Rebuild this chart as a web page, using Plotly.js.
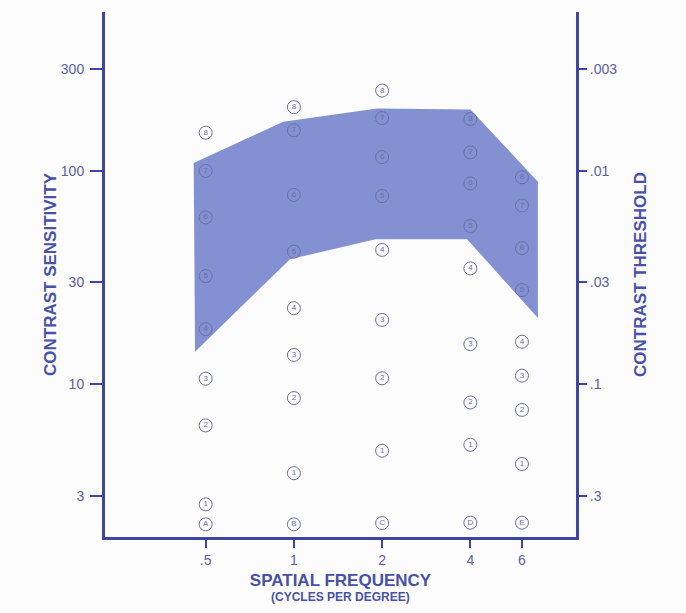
<!DOCTYPE html>
<html>
<head>
<meta charset="utf-8">
<script src="https://cdn.plot.ly/plotly-3.0.1.min.js"></script>
<style>html,body{margin:0;padding:0;background:#fcfcfc;}#chart{width:686px;height:613px;}</style>
</head>
<body>
<div id="chart"></div>
<script>
// Spatial frequencies (cycles per degree) and their tick labels
const freqs = [0.5, 1, 2, 4, 6];
const freqLabels = ['.5', '1', '2', '4', '6'];
// Patch numbers 1..8 in each column
const patchLabels = ['1', '2', '3', '4', '5', '6', '7', '8'];
// Contrast sensitivity of patches 1..8 at each frequency
const sensAt05 = [2.73, 6.4, 10.6, 18.1, 32.1, 60.5, 100, 151];
const sensAt1 = [3.82, 8.6, 13.7, 22.7, 41.8, 77.1, 155, 199];
const sensAt2 = [4.87, 10.65, 20.0, 42.6, 76.2, 116, 177, 238];
const sensAt4 = [5.19, 8.2, 15.4, 34.9, 55.1, 87.4, 122, 175];
const sensAt6 = [4.22, 7.57, 10.96, 15.8, 27.6, 43.4, 68.8, 93.3];
// Row letters under each column
const rowLetters = ['A', 'B', 'C', 'D', 'E'];
const letterSens = [2.20, 2.20, 2.23, 2.24, 2.24];
// Normal-range band (shaded area)
const bandUpperFreq = [0.455, 0.92, 1.92, 4.0, 6.8];
const bandUpper = [109, 170, 196, 194, 89];
const bandLowerFreq = [0.46, 0.97, 1.9, 3.9, 6.8];
const bandLower = [14.2, 38.5, 47.8, 47.8, 20.4];
// Axis ticks
const sensTicks = [3, 10, 30, 100, 300];
const sensTickLabels = ['3', '10', '30', '100', '300'];
const thresholdLabels = ['.3', '.1', '.03', '.01', '.003'];

const axisColor = '#3d46a0';
const labelColor = '#5b5f9c';
const titleColor = '#4751a7';
const circleColor = '#6a6ea3';
const FONT = '"Liberation Sans", Arial, sans-serif';

const columns = [sensAt05, sensAt1, sensAt2, sensAt4, sensAt6];

const traces = [];
// band
traces.push({
  type: 'scatter', mode: 'lines',
  x: bandUpperFreq.concat(bandLowerFreq.slice().reverse()),
  y: bandUpper.concat(bandLower.slice().reverse()),
  fill: 'toself', fillcolor: '#8391d2',
  line: {width: 0, color: '#8391d2'},
  hoverinfo: 'skip', showlegend: false
});
// circled patch numbers
columns.forEach((col, i) => {
  traces.push({
    type: 'scatter', mode: 'markers+text',
    x: col.map(() => freqs[i]), y: col,
    text: patchLabels,
    textposition: 'middle center',
    textfont: {family: FONT, size: 8, color: circleColor},
    marker: {symbol: 'circle-open', size: 13, color: circleColor, line: {width: 1, color: circleColor}},
    cliponaxis: false, showlegend: false
  });
});
// circled row letters
traces.push({
  type: 'scatter', mode: 'markers+text',
  x: freqs, y: letterSens, text: rowLetters,
  textposition: 'middle center',
  textfont: {family: FONT, size: 8, color: circleColor},
  marker: {symbol: 'circle-open', size: 13, color: circleColor, line: {width: 1, color: circleColor}},
  cliponaxis: false, showlegend: false
});
// threshold axis carrier (invisible)
traces.push({
  type: 'scatter', mode: 'markers', yaxis: 'y2',
  x: freqs, y: letterSens.map(s => 1 / s),
  marker: {opacity: 0}, hoverinfo: 'skip', showlegend: false
});

const layout = {
  width: 686, height: 613,
  margin: {l: 105, r: 110, t: 12, b: 76},
  paper_bgcolor: '#fcfcfc', plot_bgcolor: '#fcfcfc',
  font: {family: FONT, color: labelColor},
  showlegend: false,
  xaxis: {
    type: 'log', range: [-0.6445, 0.9625], autorange: false,
    tickvals: freqs, ticktext: freqLabels,
    showgrid: false, zeroline: false,
    showline: true, linecolor: axisColor, linewidth: 3,
    ticks: 'outside', ticklen: 8, tickwidth: 2, tickcolor: axisColor,
    tickfont: {size: 14, color: labelColor},
    ticklabelstandoff: 0,
    title: {text: '<b>SPATIAL FREQUENCY</b>', font: {size: 17, color: titleColor}, standoff: 8}
  },
  yaxis: {
    type: 'log', range: [0.283, 2.745], autorange: false,
    tickvals: sensTicks, ticktext: sensTickLabels,
    showgrid: false, zeroline: false,
    showline: true, linecolor: axisColor, linewidth: 3,
    ticks: 'outside', ticklen: 12, tickwidth: 2, tickcolor: axisColor,
    tickfont: {size: 14, color: labelColor},
    ticklabelstandoff: 3,
    title: {text: '<b>CONTRAST SENSITIVITY</b>', font: {size: 17, color: titleColor}, standoff: 0}
  },
  yaxis2: {
    type: 'log', overlaying: 'y', side: 'right',
    range: [-0.283, -2.745], autorange: false,
    tickvals: sensTicks.map(s => 1 / s), ticktext: thresholdLabels,
    showgrid: false, zeroline: false,
    showline: true, linecolor: axisColor, linewidth: 3,
    ticks: 'outside', ticklen: 8, tickwidth: 2, tickcolor: axisColor,
    tickfont: {size: 14, color: labelColor},
    ticklabelstandoff: 0,
    title: {text: '<b>CONTRAST THRESHOLD</b>', font: {size: 17, color: titleColor}, standoff: 18}
  },
  annotations: [{
    text: '<b>(CYCLES PER DEGREE)</b>',
    xref: 'paper', yref: 'paper', x: 0.5, y: -0.115,
    xanchor: 'center', yanchor: 'middle', showarrow: false,
    font: {family: FONT, size: 12, color: titleColor}
  }]
};

Plotly.newPlot('chart', traces, layout, {displayModeBar: false, staticPlot: true});
</script>
</body>
</html>
